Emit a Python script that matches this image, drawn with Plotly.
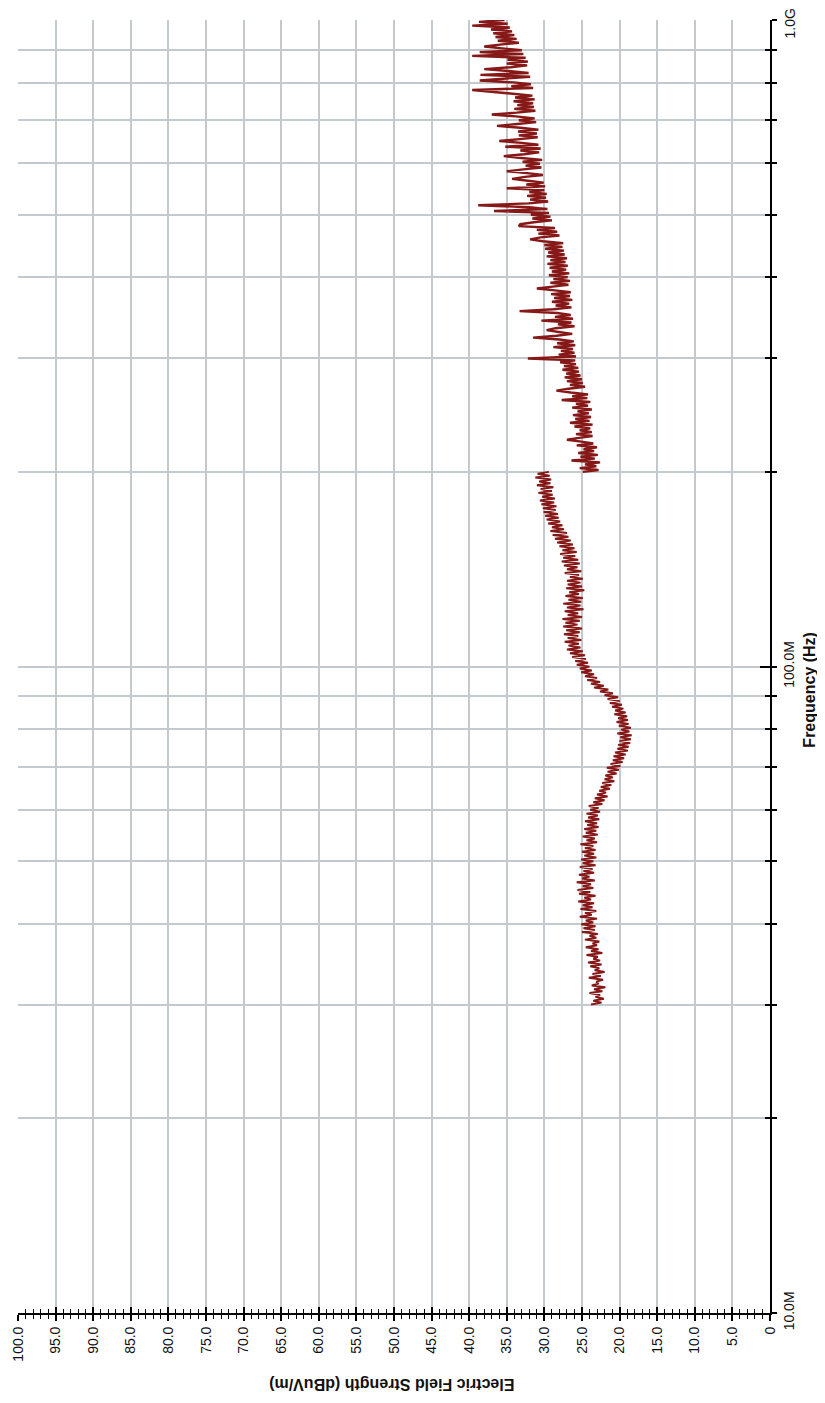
import numpy as np
import plotly.graph_objects as go

# ---------------- data ----------------
# Sweep 1: 30 MHz -> 200 MHz, field strength in dBuV/m
field_30M_200M = [
    23.8, 22.4, 23.5, 22.1, 23.2, 22.6, 24.0, 22.3, 23.4, 21.9, 23.7, 22.8, 23.1, 22.2, 24.1, 22.5, 23.6, 22.0, 23.3, 22.7,
    23.9, 22.4, 24.2, 22.6, 23.5, 22.9, 24.4, 22.3, 23.8, 22.8, 24.5, 23.0, 23.6, 22.7, 24.6, 23.1, 24.0, 22.9, 25.0, 23.3,
    24.8, 23.2, 25.1, 23.5, 24.5, 23.0, 25.3, 23.7, 24.6, 23.1, 25.2, 23.6, 24.9, 23.4, 25.5, 23.8, 24.7, 23.2, 25.4, 23.9,
    25.6, 23.5, 24.9, 23.8, 25.7, 23.3, 25.0, 24.0, 25.4, 23.4, 24.8, 23.6, 25.3, 23.2, 24.9, 23.5, 25.1, 23.1, 24.7, 23.4,
    25.0, 23.2, 24.6, 23.5, 25.2, 23.0, 24.4, 23.3, 24.9, 22.9, 24.5, 23.1, 24.7, 22.8, 24.3, 23.0, 24.6, 22.7, 24.2, 22.9,
    24.4, 22.6, 23.9, 22.8, 24.1, 22.3, 23.5, 22.0, 23.3, 21.6, 23.0, 21.8, 22.7, 21.3, 22.5, 21.1, 22.3, 20.7, 22.0, 20.9,
    21.9, 20.4, 21.6, 20.1, 21.7, 19.9, 21.2, 19.6, 20.9, 19.4, 20.8, 19.2, 20.6, 18.9, 20.3, 18.8, 20.2, 18.6, 20.0, 18.5,
    19.9, 18.4, 20.3, 18.7, 19.8, 18.5, 20.1, 18.8, 20.4, 18.9, 20.2, 19.0, 20.7, 19.2, 20.6, 19.5, 21.0, 19.7, 21.3, 20.0,
    21.6, 20.2, 22.0, 20.9, 22.6, 21.5, 23.4, 22.1, 23.8, 22.6, 24.3, 23.0, 24.6, 23.4, 25.1, 23.7, 25.3, 24.0, 25.7, 24.2,
    25.9, 24.5, 26.3, 24.6, 26.6, 24.9, 27.0, 25.2, 26.8, 25.4, 27.3, 25.1, 26.9, 25.5, 27.4, 25.3, 27.1, 25.0, 27.5, 25.6,
    27.2, 25.3, 27.6, 25.0, 26.9, 25.5, 27.3, 24.8, 27.0, 25.2, 27.5, 25.1, 26.8, 24.9, 27.2, 25.4, 26.7, 24.7, 27.1, 25.0,
    26.9, 25.2, 27.0, 24.9, 26.6, 25.4, 27.3, 25.1, 27.0, 25.6, 27.4, 25.3, 27.7, 25.5, 27.5, 25.9, 27.9, 25.7, 27.6, 26.0,
    28.0, 26.2, 28.3, 26.5, 28.6, 26.8, 28.9, 27.0, 29.2, 27.4, 29.0, 27.6, 29.5, 27.9, 29.7, 28.1, 29.9, 28.2, 30.1, 28.5,
    30.2, 28.4, 30.4, 28.7, 30.6, 28.6, 30.3, 28.9, 30.8, 29.0, 30.5, 28.8, 31.0, 29.2, 30.7, 29.1, 31.2, 29.3, 30.9, 29.4,
]

# Sweep 2: 200 MHz -> 1 GHz, field strength in dBuV/m
field_200M_1G = [
    24.9, 22.8, 25.3, 23.1, 24.6, 22.6, 26.4, 23.3, 25.2, 22.9, 25.5, 23.4, 24.8, 23.0, 25.7, 23.5, 25.1, 27.0, 25.4, 23.6,
    25.8, 23.7, 25.3, 23.9, 26.0, 23.6, 26.6, 24.0, 25.9, 23.8, 26.2, 24.1, 25.6, 23.7, 26.3, 24.2, 25.8, 23.9, 27.7, 24.3,
    26.3, 24.2, 26.5, 28.4, 26.8, 24.6, 26.6, 24.9, 27.0, 25.0, 27.3, 25.2, 27.1, 25.4, 27.6, 25.5, 27.4, 25.8, 27.9, 25.9,
    32.2, 25.8, 28.1, 26.0, 27.8, 26.2, 28.8, 25.9, 28.3, 26.1, 28.0, 31.5, 28.4, 26.3, 28.1, 29.7, 28.5, 26.0, 28.2, 26.4,
    30.4, 26.2, 28.6, 26.5, 28.3, 33.3, 28.8, 26.4, 28.5, 26.7, 29.0, 26.3, 28.7, 26.6, 29.1, 26.5, 28.6, 31.0, 28.9, 26.8,
    29.2, 26.6, 28.8, 26.9, 29.4, 26.7, 29.0, 27.1, 29.3, 26.9, 29.6, 27.2, 29.2, 27.0, 29.7, 27.3, 29.5, 27.4, 29.9, 27.6,
    30.0, 27.5, 30.2, 31.9, 30.5, 28.0, 30.8, 28.3, 31.0, 28.6, 33.4, 33.2, 31.4, 29.0, 31.6, 29.2, 31.8, 29.4, 36.7, 29.6,
    32.0, 38.8, 32.1, 29.5, 31.9, 29.8, 32.3, 29.7, 32.0, 30.0, 35.0, 29.9, 32.4, 30.1, 32.2, 34.3, 32.6, 30.2, 32.3, 35.0,
    32.8, 30.4, 32.5, 30.6, 32.9, 30.3, 33.1, 35.4, 32.7, 30.7, 33.2, 30.5, 35.2, 30.8, 33.0, 36.0, 33.3, 30.9, 33.4, 31.0,
    33.5, 30.8, 33.2, 36.3, 33.6, 31.1, 33.4, 31.3, 33.8, 37.0, 33.7, 31.2, 34.0, 31.4, 33.6, 31.5, 34.1, 31.3, 33.9, 31.6,
    34.2, 37.2, 39.6, 31.5, 34.4, 31.8, 34.1, 38.6, 34.6, 31.9, 38.5, 32.1, 34.8, 38.0, 34.5, 32.3, 35.0, 32.2, 34.9, 32.5,
    39.6, 32.8, 38.6, 33.0, 35.6, 38.0, 35.9, 33.4, 36.2, 33.7, 36.5, 34.0, 36.8, 34.3, 37.1, 34.6, 39.6, 34.9, 38.7, 35.3,
]

# sweep definitions (start / stop frequency in Hz), points spread evenly on the log axis
sweep1_start, sweep1_stop = 30e6, 200e6
sweep2_start, sweep2_stop = 200e6, 1e9
freq_30M_200M = np.geomspace(sweep1_start, sweep1_stop, len(field_30M_200M))
freq_200M_1G = np.geomspace(sweep2_start, sweep2_stop, len(field_200M_1G))

# field-strength axis ticks
field_ticks = [100, 95, 90, 85, 80, 75, 70, 65, 60, 55, 50, 45, 40, 35, 30, 25, 20, 15, 10, 5, 0]
field_ticktext = ["100.0", "95.0", "90.0", "85.0", "80.0", "75.0", "70.0", "65.0", "60.0", "55.0",
                  "50.0", "45.0", "40.0", "35.0", "30.0", "25.0", "20.0", "15.0", "10.0", "5.0", "0"]

# frequency axis ticks (the top label is drawn as an annotation so it stays inside the page)
freq_ticks = [1e7, 2e7, 3e7, 4e7, 5e7, 6e7, 7e7, 8e7, 9e7,
              1e8, 2e8, 3e8, 4e8, 5e8, 6e8, 7e8, 8e8, 9e8, 1e9]
freq_ticktext = ["10.0M", "", "", "", "", "", "", "", "",
                 "100.0M", "", "", "", "", "", "", "", "", ""]
freq_top_label = "1.0G"
freq_major = [1e7, 1e8, 1e9]
freq_minor = [2e7, 3e7, 4e7, 5e7, 6e7, 7e7, 8e7, 9e7,
              2e8, 3e8, 4e8, 5e8, 6e8, 7e8, 8e8, 9e8]

# ---------------- styles ----------------
TRACE_COLOR = "#861818"
GRID_COLOR = "#c3c9cc"
FONT = "Liberation Sans, Arial, Helvetica, sans-serif"
TXT = "#111111"

fig = go.Figure()
fig.add_trace(go.Scatter(x=field_30M_200M, y=freq_30M_200M, mode="lines",
                         line=dict(color=TRACE_COLOR, width=2.0), xaxis="x", yaxis="y"))
fig.add_trace(go.Scatter(x=field_200M_1G, y=freq_200M_1G, mode="lines",
                         line=dict(color=TRACE_COLOR, width=2.4), xaxis="x2", yaxis="y2"))

# the page body adds an 8px offset, so the figure is sized to fit the window
fig.update_layout(
    width=817, height=1387,
    margin=dict(l=10, r=55, t=12, b=82, autoexpand=False),
    plot_bgcolor="white", paper_bgcolor="white",
    showlegend=False,
    font=dict(family=FONT, size=14, color=TXT),
    xaxis=dict(
        automargin=False,
        range=[100, 0], tickmode="array", tickvals=field_ticks, ticktext=field_ticktext,
        tickangle=-90, showgrid=True, gridcolor=GRID_COLOR, gridwidth=1.5,
        showline=True, linecolor="black", linewidth=2, zeroline=False,
        ticks="outside", ticklen=6, tickwidth=1.5, tickcolor="black",
        ticklabeloverflow="allow",
        minor=dict(tickmode="linear", tick0=0, dtick=1, ticks="outside", ticklen=4,
                   tickwidth=1.2, tickcolor="black", showgrid=False),
        tickfont=dict(family=FONT, size=14, color=TXT),
    ),
    xaxis2=dict(
        automargin=False,
        overlaying="x", anchor="y", side="bottom",
        range=[100, 0], tickmode="array", tickvals=field_ticks,
        showticklabels=False, showgrid=False, showline=False, zeroline=False,
        ticks="inside", ticklen=6, tickwidth=1.5, tickcolor="black",
        minor=dict(tickmode="linear", tick0=0, dtick=1, ticks="inside", ticklen=4,
                   tickwidth=1.2, tickcolor="black", showgrid=False),
    ),
    yaxis=dict(
        automargin=False,
        type="log", range=[7, 9], side="right", anchor="x",
        tickmode="array", tickvals=freq_ticks, ticktext=freq_ticktext, tickangle=-90,
        showgrid=True, gridcolor=GRID_COLOR, gridwidth=1.5,
        showline=True, linecolor="black", linewidth=2, zeroline=False,
        ticks="outside", ticklen=5, tickwidth=1.5, tickcolor="black",
        ticklabeloverflow="allow",
        tickfont=dict(family=FONT, size=14, color=TXT),
    ),
    yaxis2=dict(
        automargin=False,
        type="log", range=[7, 9], side="right", anchor="x", overlaying="y",
        tickmode="array", tickvals=freq_major, showticklabels=False,
        showgrid=False, showline=False, zeroline=False,
        ticks="inside", ticklen=10, tickwidth=1.5, tickcolor="black",
        minor=dict(tickmode="array", tickvals=freq_minor, ticks="inside", ticklen=5,
                   tickwidth=1.5, tickcolor="black", showgrid=False),
    ),
    annotations=[
        dict(text="<b>Electric Field Strength (dBuV/m)</b>", xref="paper", yref="paper",
             x=0.497, y=-0.0557, xanchor="center", yanchor="middle", textangle=180,
             showarrow=False, font=dict(family=FONT, size=16, color=TXT)),
        dict(text="<b>Frequency (Hz)</b>", xref="paper", yref="paper",
             x=1.053, y=0.482, xanchor="center", yanchor="middle", textangle=-90,
             showarrow=False, font=dict(family=FONT, size=16, color=TXT)),
        dict(text=freq_top_label, xref="paper", yref="paper",
             x=1.0266, y=0.9973, xanchor="center", yanchor="middle", textangle=-90,
             showarrow=False, font=dict(family=FONT, size=14, color=TXT)),
    ],
)

fig.write_html("out.html")
